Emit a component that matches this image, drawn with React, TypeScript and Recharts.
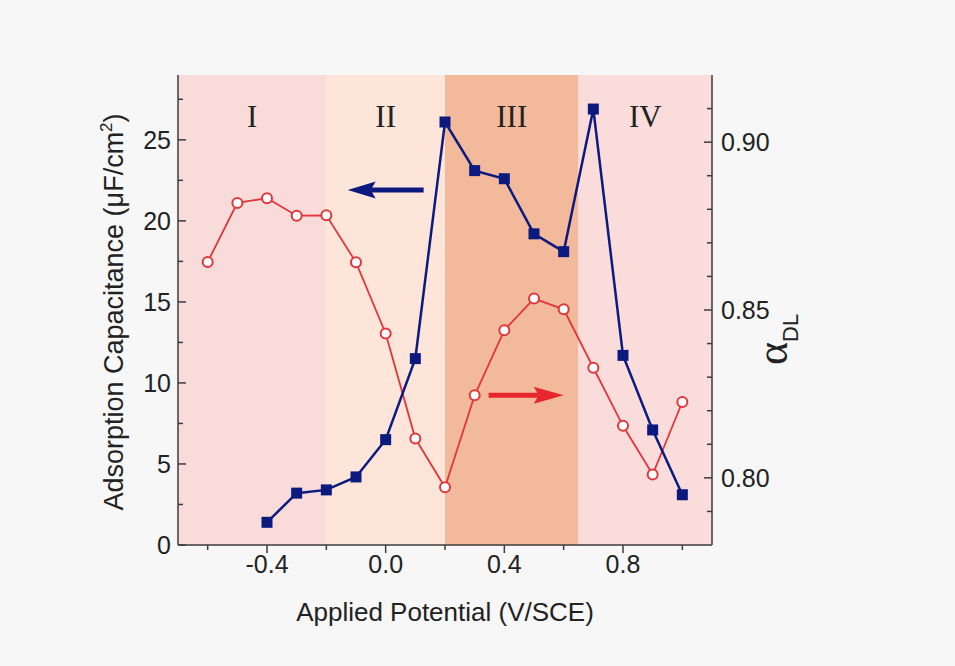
import React from "react";
import { ComposedChart, Line, XAxis, YAxis, ReferenceArea, ReferenceLine } from "recharts";

// applied potential (V/SCE)
const potentials = [-0.6, -0.5, -0.4, -0.3, -0.2, -0.1, 0.0, 0.1, 0.2, 0.3, 0.4, 0.5, 0.6, 0.7, 0.8, 0.9, 1.0];
// adsorption capacitance (uF/cm2), left axis
const capacitance = [null, null, 1.4, 3.2, 3.4, 4.2, 6.5, 11.5, 26.1, 23.1, 22.6, 19.2, 18.1, 26.9, 11.7, 7.1, 3.1];
// alpha DL, right axis
const alphaDL = [0.8643, 0.8819, 0.8833, 0.8781, 0.8782, 0.8642, 0.843, 0.8117, 0.7972, 0.8246, 0.844, 0.8534, 0.8502, 0.8328, 0.8155, 0.801, 0.8226];

const regionNames = ["I", "II", "III", "IV"];
const regionFrom = [-0.7, -0.2, 0.2, 0.65];
const regionTo = [-0.2, 0.2, 0.65, 1.1];
const regionFills = ["#f9dbd9", "#fde6d9", "#f3b99b", "#fadcdb"];

const xTicks = [-0.6, -0.4, -0.2, 0, 0.2, 0.4, 0.6, 0.8, 1.0];
const xLabeled = [-0.4, 0, 0.4, 0.8];
const leftTicks = [0, 2.5, 5, 7.5, 10, 12.5, 15, 17.5, 20, 22.5, 25, 27.5];
const leftLabeled = [0, 5, 10, 15, 20, 25];
const rightTicks = [0.79, 0.8, 0.81, 0.82, 0.83, 0.84, 0.85, 0.86, 0.87, 0.88, 0.89, 0.9, 0.91];
const rightLabeled = [0.8, 0.85, 0.9];

// arrows pointing at each series' axis
const blueArrow = [{ x: 0.128, y: 21.9 }, { x: -0.128, y: 21.9 }];
const redArrow = [{ x: 0.347, y: 0.8246 }, { x: 0.6, y: 0.8246 }];

const rows = potentials.map((x, i) => ({ x, cap: capacitance[i], alpha: alphaDL[i] }));

const NAVY = "#0c1a80";
const RED = "#e0363c";
const FRAME = "#3c3c3c";
const SANS = "'Liberation Sans', Arial, sans-serif";
const TXT = "#222";
const TICK_FONT = 25;

const near = (list: number[], v: number) => list.some((a) => Math.abs(a - v) < 1e-6);

function BottomTick(p: any) {
  const major = near(xLabeled, p.payload.value);
  return (
    <g>
      <line x1={p.x} x2={p.x} y1={p.y} y2={p.y + (major ? 8 : 5)} stroke={FRAME} strokeWidth={1.5} />
      {major && (
        <text x={p.x} y={p.y + 28} textAnchor="middle" fontSize={TICK_FONT} fontFamily={SANS} fill={TXT}>
          {p.payload.value.toFixed(1)}
        </text>
      )}
    </g>
  );
}

function TopTick(p: any) {
  const major = near(xLabeled, p.payload.value);
  return <line x1={p.x} x2={p.x} y1={p.y} y2={p.y + (major ? 8 : 5)} stroke={FRAME} strokeWidth={1.5} />;
}

function LeftTick(p: any) {
  const major = near(leftLabeled, p.payload.value);
  return (
    <g>
      <line x1={p.x} x2={p.x + (major ? 8 : 5)} y1={p.y} y2={p.y} stroke={FRAME} strokeWidth={1.5} />
      {major && (
        <text x={p.x - 7} y={p.y + 9} textAnchor="end" fontSize={TICK_FONT} fontFamily={SANS} fill={TXT}>
          {p.payload.value}
        </text>
      )}
    </g>
  );
}

function RightTick(p: any) {
  const major = near(rightLabeled, p.payload.value);
  return (
    <g>
      <line x1={p.x} x2={p.x - (major ? 8 : 5)} y1={p.y} y2={p.y} stroke={FRAME} strokeWidth={1.5} />
      {major && (
        <text x={p.x + 9} y={p.y + 9} textAnchor="start" fontSize={TICK_FONT} fontFamily={SANS} fill={TXT}>
          {p.payload.value.toFixed(2)}
        </text>
      )}
    </g>
  );
}

function LeftTitle(p: any) {
  const vb = p.viewBox;
  const x = vb.x + 123;
  const y = vb.y + vb.height / 2 + 2;
  return (
    <text x={x} y={y} transform={`rotate(-90, ${x}, ${y})`} textAnchor="middle" fontSize={27} fontFamily={SANS} fill={TXT}>
      Adsorption Capacitance (μF/cm
      <tspan fontSize={17} dy={-11}>2</tspan>
      <tspan dy={11}>)</tspan>
    </text>
  );
}

function RightTitle(p: any) {
  const vb = p.viewBox;
  const x = vb.x + 75;
  const y = vb.y + 290;
  return (
    <text x={x} y={y} transform={`rotate(-90, ${x}, ${y})`} textAnchor="start" fill={TXT}>
      <tspan fontSize={44} fontFamily="'Liberation Serif', serif">α</tspan>
      <tspan fontSize={22} fontFamily={SANS} dy={11}>DL</tspan>
    </text>
  );
}

function BottomTitle(p: any) {
  const vb = p.viewBox;
  return (
    <text x={vb.x + vb.width / 2} y={vb.y + 76} textAnchor="middle" fontSize={26} fontFamily={SANS} fill={TXT}>
      Applied Potential (V/SCE)
    </text>
  );
}

function arrowShape(color: string, headLen: number, headHalf: number, shaft: number) {
  return (p: any) => {
    const { x1, y1, x2, y2 } = p;
    const dx = x2 - x1;
    const dy = y2 - y1;
    const len = Math.hypot(dx, dy) || 1;
    const ux = dx / len;
    const uy = dy / len;
    const bx = x2 - ux * headLen;
    const by = y2 - uy * headLen;
    const nx = -uy;
    const ny = ux;
    const notchX = bx + ux * 5;
    const notchY = by + uy * 5;
    return (
      <g>
        <line x1={x1} y1={y1} x2={notchX} y2={notchY} stroke={color} strokeWidth={shaft} />
        <polygon
          points={`${x2},${y2} ${bx + nx * headHalf},${by + ny * headHalf} ${notchX},${notchY} ${bx - nx * headHalf},${by - ny * headHalf}`}
          fill={color}
        />
      </g>
    );
  };
}

const Square = (p: any) =>
  p.cy == null || p.value == null ? (
    <g key={p.key} />
  ) : (
    <rect key={p.key} x={p.cx - 5.5} y={p.cy - 5.5} width={11} height={11} fill={NAVY} />
  );

const Ring = (p: any) =>
  p.cy == null ? (
    <g key={p.key} />
  ) : (
    <circle key={p.key} cx={p.cx} cy={p.cy} r={5} fill="#fff" stroke={RED} strokeWidth={2} />
  );

export default function App() {
  return (
    <div style={{ position: "absolute", left: 0, top: 0, width: 955, height: 666, background: "#f7f7f7" }}>
      <ComposedChart width={955} height={666} data={rows} margin={{ top: 75, right: 0, bottom: 0, left: 0 }}>
        {regionNames.map((name, i) => (
          <ReferenceArea
            key={name}
            xAxisId="bottom"
            yAxisId="left"
            x1={regionFrom[i]}
            x2={regionTo[i]}
            fill={regionFills[i]}
            fillOpacity={1}
            stroke="none"
            label={{
              value: name,
              position: "insideTop",
              offset: 30,
              fontSize: 31,
              fontFamily: "'Liberation Serif', serif",
              fill: TXT,
            }}
          />
        ))}
        <XAxis
          xAxisId="bottom"
          dataKey="x"
          type="number"
          domain={[-0.7, 1.1]}
          ticks={xTicks}
          interval={0}
          allowDataOverflow
          height={121}
          tickSize={0}
          tickMargin={0}
          tickLine={false}
          tick={BottomTick}
          axisLine={{ stroke: FRAME, strokeWidth: 1.5 }}
          label={{ content: BottomTitle }}
        />
        <XAxis
          xAxisId="top"
          orientation="top"
          dataKey="x"
          type="number"
          domain={[-0.7, 1.1]}
          ticks={xTicks}
          interval={0}
          allowDataOverflow
          height={0}
          tickSize={0}
          tickMargin={0}
          tickLine={false}
          tick={TopTick}
          axisLine={{ stroke: FRAME, strokeWidth: 1.5 }}
        />
        <YAxis
          yAxisId="left"
          width={178}
          type="number"
          domain={[0, 29]}
          ticks={leftTicks}
          interval={0}
          allowDataOverflow
          tickSize={0}
          tickMargin={0}
          tickLine={false}
          tick={LeftTick}
          axisLine={{ stroke: FRAME, strokeWidth: 1.5 }}
          label={{ content: LeftTitle }}
        />
        <YAxis
          yAxisId="right"
          orientation="right"
          width={243}
          type="number"
          domain={[0.78, 0.92]}
          ticks={rightTicks}
          interval={0}
          allowDataOverflow
          tickSize={0}
          tickMargin={0}
          tickLine={false}
          tick={RightTick}
          axisLine={{ stroke: FRAME, strokeWidth: 1.5 }}
          label={{ content: RightTitle }}
        />
        <ReferenceLine
          xAxisId="bottom"
          yAxisId="left"
          segment={blueArrow}
          shape={arrowShape(NAVY, 28, 8.5, 5)}
        />
        <ReferenceLine
          xAxisId="bottom"
          yAxisId="right"
          segment={redArrow}
          shape={arrowShape("#e8272d", 30, 8.5, 5)}
        />
        <Line
          xAxisId="bottom"
          yAxisId="right"
          dataKey="alpha"
          stroke={RED}
          strokeWidth={1.8}
          dot={Ring}
          activeDot={false}
          isAnimationActive={false}
        />
        <Line
          xAxisId="bottom"
          yAxisId="left"
          dataKey="cap"
          stroke={NAVY}
          strokeWidth={2.5}
          dot={Square}
          activeDot={false}
          isAnimationActive={false}
        />
      </ComposedChart>
    </div>
  );
}
